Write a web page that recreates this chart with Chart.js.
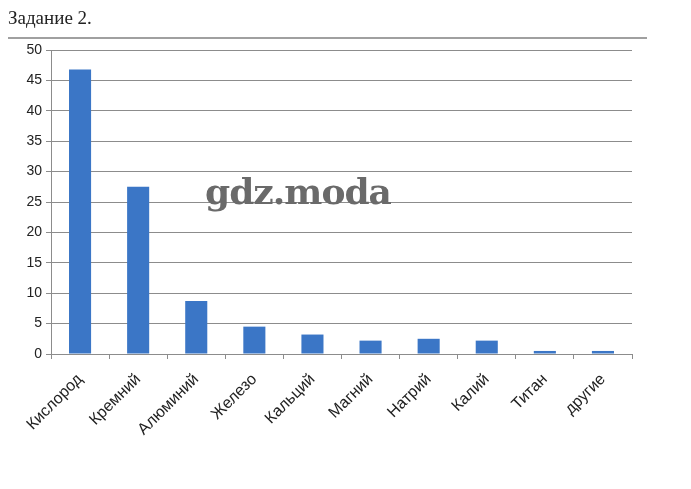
<!DOCTYPE html>
<html>
<head>
<meta charset="utf-8">
<script src="https://cdn.jsdelivr.net/npm/chart.js@4.4.1/dist/chart.umd.min.js"></script>
<style>
  html, body { margin: 0; padding: 0; background: #fff; }
  #wrap { position: relative; width: 691px; height: 489px; }
  #heading {
    position: absolute; left: 8px; top: 7px;
    font-family: "Liberation Serif", serif; font-size: 19px; color: #222;
  }
  #rule { position: absolute; left: 8px; top: 37px; width: 639px; height: 2px; background: #a0a0a0; }
  #mark {
    position: absolute; left: 205px; top: 170px;
    font-family: "DejaVu Serif", serif; font-weight: bold; font-size: 36px;
    color: #6a6a6a; letter-spacing: -1px;
  }
  canvas { position: absolute; left: 0; top: 0; }
</style>
</head>
<body>
<div id="wrap">
  <canvas id="chart" width="691" height="489"></canvas>
  <div id="heading">Задание 2.</div>
  <div id="rule"></div>
  <div id="mark">gdz.moda</div>
</div>
<script>
const elements = ['Кислород', 'Кремний', 'Алюминий', 'Железо', 'Кальций', 'Магний', 'Натрий', 'Калий', 'Титан', 'другие'];
const percents = [46.8, 27.5, 8.7, 4.5, 3.2, 2.2, 2.5, 2.2, 0.5, 0.5];
const yTicks = [0, 5, 10, 15, 20, 25, 30, 35, 40, 45, 50];

const canvas = document.getElementById('chart');
new Chart(canvas.getContext('2d'), {
  type: 'bar',
  data: {
    labels: elements,
    datasets: [{
      data: percents,
      backgroundColor: '#3B76C6',
      borderWidth: 0,
      barPercentage: 0.38,
      categoryPercentage: 1
    }]
  },
  options: {
    responsive: false,
    animation: false,
    layout: { padding: { top: 50, right: 59, bottom: 0, left: 0 } },
    plugins: { legend: { display: false }, tooltip: { enabled: false } },
    scales: {
      x: {
        grid: { offset: true, drawOnChartArea: false, tickLength: 5, color: '#8c8c8c' },
        border: { color: '#8c8c8c' },
        ticks: {
          minRotation: 45, maxRotation: 45, padding: 11,
          color: '#222', font: { family: 'Liberation Sans', size: 16 }
        },
        afterFit: (s) => { s.height = 135; }
      },
      y: {
        min: 0, max: 50,
        afterBuildTicks: (s) => { s.ticks = yTicks.map(v => ({ value: v })); },
        grid: { color: '#8c8c8c', tickLength: 5 },
        border: { color: '#8c8c8c' },
        ticks: { padding: 4, color: '#222', font: { family: 'Liberation Sans', size: 14 } },
        afterFit: (s) => { s.width = 51; }
      }
    }
  }
});
</script>
</body>
</html>
